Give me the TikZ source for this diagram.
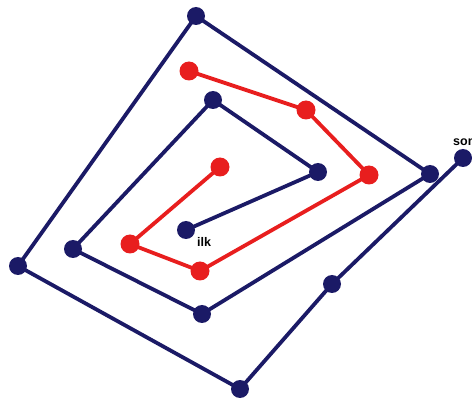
\documentclass[tikz,border=0pt]{standalone}
\usepackage{fontspec}
\setmainfont{Liberation Sans}
\usetikzlibrary{backgrounds}
\definecolor{navy}{HTML}{1B1A66}
\definecolor{redd}{HTML}{E81E1E}
\begin{document}
\begin{tikzpicture}[x=1pt,y=-1pt,
  bdot/.style={circle,fill=navy,inner sep=0pt,minimum size=18pt},
  rdot/.style={circle,fill=redd,inner sep=0pt,minimum size=19pt},
  bline/.style={draw=navy,line width=3.8pt},
  rline/.style={draw=redd,line width=3.8pt},
  lbl/.style={font=\bfseries\fontsize{12.5}{14}\selectfont,inner sep=0pt,anchor=base west}]
\useasboundingbox (0,0) rectangle (472,401);
% blue nodes
\node[bdot] (b1) at (186,230) {};
\node[bdot] (b2) at (318,172) {};
\node[bdot] (b3) at (213,100) {};
\node[bdot] (b4) at (73,249) {};
\node[bdot] (b5) at (202,314) {};
\node[bdot] (b6) at (430,174) {};
\node[bdot] (b7) at (196,16) {};
\node[bdot] (b8) at (18,266) {};
\node[bdot] (b9) at (240,389) {};
\node[bdot] (b10) at (332,284) {};
\node[bdot] (b11) at (463,158) {};
% red nodes
\node[rdot] (r1) at (220,167) {};
\node[rdot] (r2) at (130,244) {};
\node[rdot] (r3) at (200,271) {};
\node[rdot] (r4) at (369,175) {};
\node[rdot] (r5) at (306,110) {};
\node[rdot] (r6) at (189,71) {};
% connectors
\begin{scope}[on background layer]
\path[bline] (b1.center) -- (b2.center) -- (b3.center) -- (b4.center) -- (b5.center) -- (b6.center) -- (b7.center) -- (b8.center) -- (b9.center) -- (b10.center) -- (b11.center);
\path[rline] (r1.center) -- (r2.center) -- (r3.center) -- (r4.center) -- (r5.center) -- (r6.center);
\end{scope}
% labels
\node[lbl] (ilk) at (197,247) {ilk};
\node[lbl] (son) at (453,146) {son};
\end{tikzpicture}
\end{document}
